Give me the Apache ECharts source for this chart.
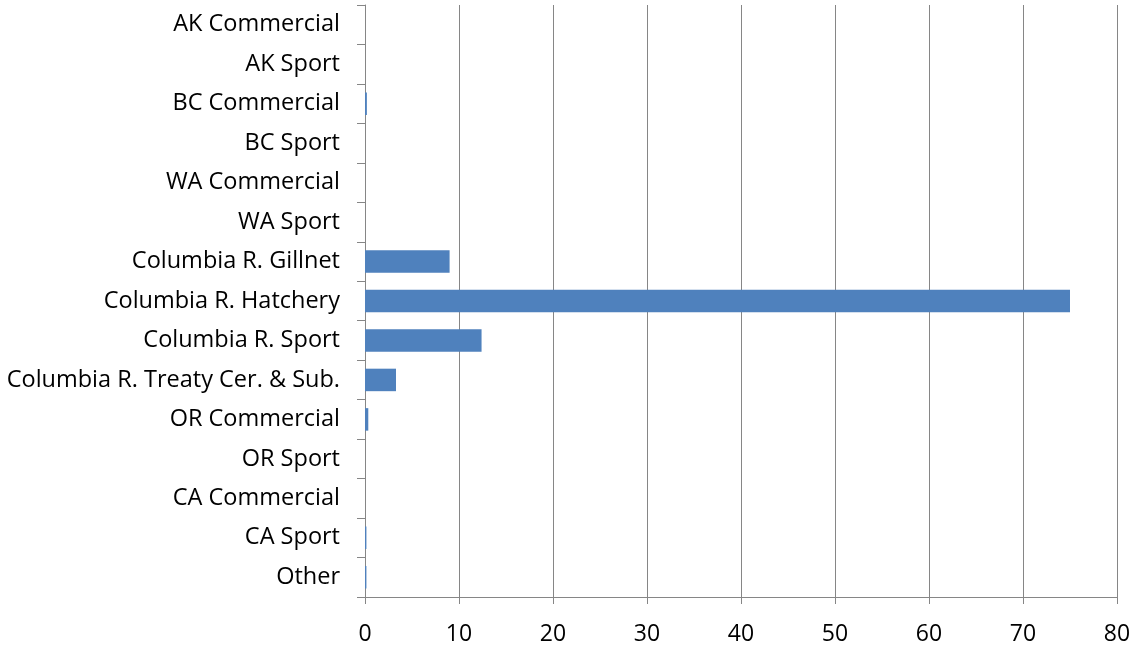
<!DOCTYPE html>
<html>
<head>
<meta charset="utf-8">
<script src="https://cdn.jsdelivr.net/npm/echarts@6/dist/echarts.min.js"></script>
<style>
  html, body { margin: 0; padding: 0; background: #fff; }
  #chart { width: 1138px; height: 652px; }
</style>
</head>
<body>
<div id="chart"></div>
<script>
// categories, top to bottom
const fisheries = [
  'AK Commercial', 'AK Sport', 'BC Commercial', 'BC Sport', 'WA Commercial', 'WA Sport',
  'Columbia R. Gillnet', 'Columbia R. Hatchery', 'Columbia R. Sport',
  'Columbia R. Treaty Cer. & Sub.', 'OR Commercial', 'OR Sport',
  'CA Commercial', 'CA Sport', 'Other'
];
const percents = [0, 0, 0.2, 0, 0, 0, 9.0, 75.0, 12.4, 3.3, 0.35, 0, 0, 0.15, 0.15];
const xTicks = [0, 80, 10];   // min, max, step

const chart = echarts.init(document.getElementById('chart'));
const option = {
  animation: false,
  textStyle: { fontFamily: 'Open Sans' },
  grid: { left: 365, right: 21, top: 5, bottom: 55, containLabel: false },
  xAxis: {
    type: 'value',
    min: xTicks[0],
    max: xTicks[1],
    interval: xTicks[2],
    axisLine: { show: true, lineStyle: { color: '#868686', width: 1 } },
    axisTick: { show: true, length: 7, lineStyle: { color: '#868686' } },
    splitLine: { show: true, lineStyle: { color: '#868686', width: 1 } },
    axisLabel: { color: '#000', fontSize: 23, margin: 26, fontFamily: 'Open Sans' }
  },
  yAxis: {
    type: 'category',
    inverse: true,
    data: fisheries,
    axisLine: { show: true, lineStyle: { color: '#868686', width: 1 } },
    axisTick: { show: true, length: 8, inside: false, lineStyle: { color: '#868686' } },
    axisLabel: { color: '#000', fontSize: 23.5, margin: 25, fontFamily: 'Open Sans' }
  },
  series: [{
    type: 'bar',
    data: percents,
    barCategoryGap: '43%',
    itemStyle: { color: '#4f81bd' }
  }]
};
chart.setOption(option);
</script>
</body>
</html>
